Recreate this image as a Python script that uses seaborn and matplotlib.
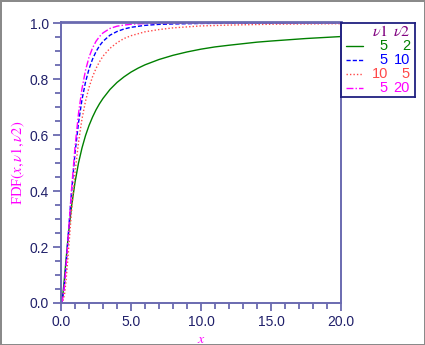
import matplotlib
matplotlib.use("Agg")
import matplotlib.pyplot as plt
import seaborn as sns
import pandas as pd
from matplotlib.lines import Line2D
from matplotlib.ticker import MultipleLocator, FormatStrFormatter

# ---- data ----
x_green = [0, 0.05, 0.1, 0.15, 0.2, 0.25, 0.35, 0.5, 0.625, 0.75, 1, 1.25, 1.5, 1.75,
           2, 2.25, 2.5, 2.75, 3, 3.5, 4, 4.5, 5, 5.5, 6, 7, 8, 9, 10, 11, 12, 14,
           15, 17.5, 20]
fdf_5_2 = [0, 0.004, 0.018, 0.039, 0.064, 0.092, 0.149, 0.230, 0.290, 0.344, 0.431,
           0.500, 0.554, 0.598, 0.634, 0.664, 0.690, 0.712, 0.731, 0.763, 0.788,
           0.808, 0.825, 0.839, 0.851, 0.870, 0.885, 0.897, 0.907, 0.915, 0.921,
           0.932, 0.936, 0.945, 0.952]
x_other = [0, 0.1, 0.25, 0.35, 0.5, 0.625, 0.75, 1, 1.25, 1.5, 1.75, 2, 2.25, 2.5,
           2.75, 3, 3.5, 4, 4.5, 5, 6, 7, 8, 10, 12, 15, 20]
fdf_5_10 = [0, 0.010, 0.070, 0.129, 0.230, 0.315, 0.396, 0.535, 0.644, 0.727, 0.789,
            0.836, 0.871, 0.898, 0.919, 0.935, 0.957, 0.970, 0.979, 0.985, 0.992,
            0.9955, 0.997, 0.9988, 0.9994, 0.9998, 1.0]
fdf_10_5 = [0, 0.001, 0.030, 0.074, 0.164, 0.246, 0.326, 0.465, 0.574, 0.658, 0.721,
            0.770, 0.808, 0.838, 0.862, 0.882, 0.910, 0.930, 0.945, 0.955, 0.969,
            0.977, 0.983, 0.990, 0.993, 0.996, 0.998]
fdf_5_20 = [0, 0.009, 0.065, 0.124, 0.227, 0.317, 0.404, 0.557, 0.677, 0.766, 0.831,
            0.878, 0.911, 0.935, 0.952, 0.965, 0.981, 0.989, 0.993, 0.996, 0.9985,
            0.9995, 0.9998, 1.0, 1.0, 1.0, 1.0]
nu1 = ["5", "5", "10", "5"]
nu2 = ["2", "10", "5", "20"]
x_ticks = [0, 5, 10, 15, 20]
y_ticks = [0.0, 0.2, 0.4, 0.6, 0.8, 1.0]

series = [(x_green, fdf_5_2), (x_other, fdf_5_10), (x_other, fdf_10_5), (x_other, fdf_5_20)]
colors = ["#008000", "#0000ff", "#ff4848", "#ff00ff"]
styles = ["-", (0, (3, 1.5)), (0, (1, 1.5)), (0, (5, 1.5, 1, 1.5))]

sns.set_theme(style="white")
plt.rcParams["font.family"] = ["Liberation Sans", "DejaVu Sans"]
plt.rcParams["mathtext.fontset"] = "stix"

axis_col = "#6a6ab0"
lab_col = "#20206a"

fig = plt.figure(figsize=(4.25, 3.45), dpi=100, facecolor="white",
                 edgecolor="#8a8a8a", linewidth=2)
ax = fig.add_axes([61 / 425, 1 - 303 / 345, 280 / 425, 281 / 345])

for (xs, ys), c, ls in zip(series, colors, styles):
    df = pd.DataFrame({"x": xs, "y": ys})
    sns.lineplot(data=df, x="x", y="y", ax=ax, color=c, linewidth=1.0,
                 linestyle=ls, estimator=None, sort=False)

ax.set_xlim(0, 20)
ax.set_ylim(0, 1.004)
ax.set_xticks(x_ticks)
ax.set_yticks(y_ticks)
ax.xaxis.set_minor_locator(MultipleLocator(1))
ax.yaxis.set_minor_locator(MultipleLocator(0.05))
ax.xaxis.set_major_formatter(FormatStrFormatter("%.1f"))
ax.yaxis.set_major_formatter(FormatStrFormatter("%.1f"))
ax.tick_params(axis="both", which="major", direction="out", length=5.5, width=1.3,
               color=axis_col, labelcolor=lab_col, labelsize=10, pad=3,
               bottom=True, left=True)
ax.tick_params(axis="both", which="minor", direction="out", length=4, width=1.3,
               color=axis_col, bottom=True, left=True)
for s in ax.spines.values():
    s.set_color(axis_col)
    s.set_linewidth(1.4)
    s.set_visible(True)
ax.spines["top"].set_linewidth(2)

ax.set_xlabel(r"$x$", color="#ff00ff", fontsize=10, labelpad=2)
ax.set_ylabel(r"FDF$(x,\nu1,\nu2)$", color="#ff00ff", fontsize=10.5, labelpad=2,
              family="Liberation Serif")

# ---- legend box ----
lg = fig.add_axes([341 / 425, 1 - 97 / 345, 74 / 425, 74 / 345])
lg.set_xlim(341, 415)
lg.set_ylim(97, 23)
lg.set_xticks([])
lg.set_yticks([])
for s in lg.spines.values():
    s.set_color("#202080")
    s.set_linewidth(1.3)
lg.patch.set_alpha(0)
hdr = "#800080"
lg.text(388, 32, r"$\nu1$", color=hdr, ha="right", va="center", fontsize=11.5)
lg.text(410, 32, r"$\nu2$", color=hdr, ha="right", va="center", fontsize=11.5)
rows_y = [46, 60, 74, 88]
for yy, c, ls, a, b in zip(rows_y, colors, styles, nu1, nu2):
    lg.add_line(Line2D([346, 363], [yy, yy], color=c, linestyle=ls, linewidth=1.0))
    lg.text(388, yy, a, color=c, ha="right", va="center", fontsize=10.5)
    lg.text(410, yy, b, color=c, ha="right", va="center", fontsize=10.5)

fig.savefig("out.png", dpi=100, facecolor="white", edgecolor="#8a8a8a")
